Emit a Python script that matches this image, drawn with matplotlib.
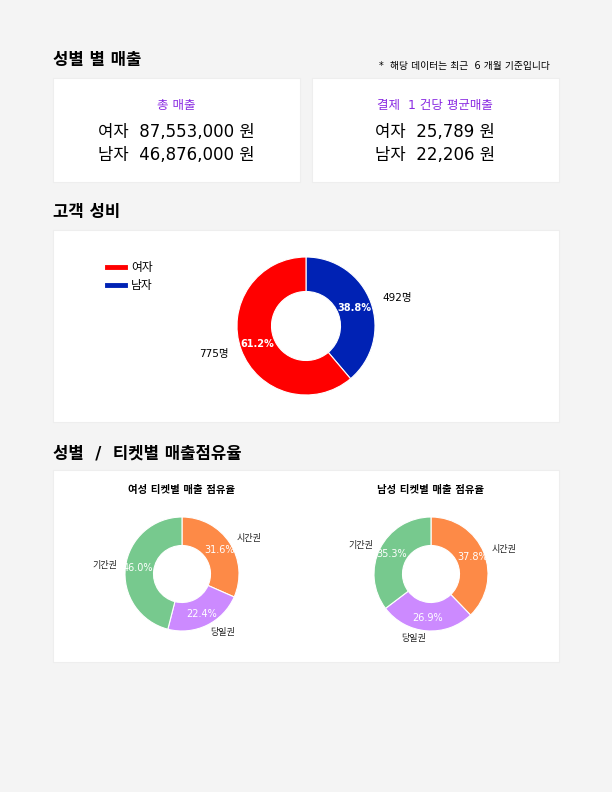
import matplotlib.pyplot as plt
from matplotlib.patches import Rectangle

plt.rcParams['font.family'] = ['DejaVu Sans', 'Noto Sans CJK KR']

W, H = 612, 792

# data
genders = ['여자', '남자']
total_sales = [87553000, 46876000]
avg_sales = [25789, 22206]
customer_counts = [775, 492]
gender_colors = ['#ff0000', '#0022b4']

tickets = ['시간권', '당일권', '기간권']
ticket_colors = ['#fd8a47', '#cc8aff', '#77c98e']
female_share = [31.6, 22.4, 46.0]
male_share = [37.8, 26.9, 35.3]

fig = plt.figure(figsize=(W / 100, H / 100), dpi=100)
fig.patch.set_facecolor('#f4f4f4')


def fx(x):
    return x / W


def fy(y):
    return 1 - y / H


def panel(x0, y0, x1, y1):
    fig.patches.append(Rectangle((fx(x0), fy(y1)), (x1 - x0) / W, (y1 - y0) / H,
                                 transform=fig.transFigure, facecolor='white',
                                 edgecolor='#eeeeee', lw=0.8, zorder=-5))


def add_ax(cx, cy, r):
    ax = fig.add_axes([fx(cx - r), fy(cy + r), 2 * r / W, 2 * r / H])
    ax.set_zorder(5)
    ax.axis('off')
    return ax


# section 1
fig.text(fx(53), fy(60), '성별 별 매출', fontsize=12, fontweight='bold', va='center')
fig.text(fx(550), fy(66), '*  해당 데이터는 최근  6 개월 기준입니다', fontsize=7, ha='right', va='center')
panel(53, 78, 300, 182)
panel(312, 78, 559, 182)
fig.text(fx(176), fy(106), '총 매출', fontsize=9, color='#8a2be2', ha='center', va='center')
fig.text(fx(435), fy(106), '결제  1 건당 평균매출', fontsize=9, color='#8a2be2', ha='center', va='center')
for i, g in enumerate(genders):
    fig.text(fx(176), fy(132 + 23 * i), f'{g}  {total_sales[i]:,} 원', fontsize=12,
             ha='center', va='center')
    fig.text(fx(435), fy(132 + 23 * i), f'{g}  {avg_sales[i]:,} 원', fontsize=12,
             ha='center', va='center')

# section 2
fig.text(fx(53), fy(212), '고객 성비', fontsize=12, fontweight='bold', va='center')
panel(53, 230, 559, 422)
ax = add_ax(306, 326, 69)
ax.pie(customer_counts[::-1], colors=gender_colors[::-1], startangle=90, counterclock=False,
       radius=1, autopct='%.1f%%', pctdistance=0.75,
       wedgeprops={'width': 0.5, 'edgecolor': 'white', 'linewidth': 0.8},
       textprops={'fontsize': 7, 'color': 'white', 'fontweight': 'bold'})
ax.set_xlim(-1, 1)
ax.set_ylim(-1, 1)
fig.text(fx(397), fy(298), f'{customer_counts[1]}명', fontsize=7.5, ha='center', va='center')
fig.text(fx(214), fy(354), f'{customer_counts[0]}명', fontsize=7.5, ha='center', va='center')
for i, g in enumerate(genders):
    y = 267 + 18 * i
    fig.lines.append(plt.Line2D([fx(107), fx(125)], [fy(y), fy(y)], transform=fig.transFigure,
                                color=gender_colors[i], lw=3.5))
    fig.text(fx(131), fy(y), g, fontsize=8.5, va='center')

# section 3
fig.text(fx(53), fy(453), '성별  /  티켓별 매출점유율', fontsize=12, fontweight='bold', va='center')
panel(53, 470, 559, 662)
for cx, share, title in [(182, female_share, '여성 티켓별 매출 점유율'),
                         (431, male_share, '남성 티켓별 매출 점유율')]:
    fig.text(fx(cx), fy(490), title, fontsize=7.5, fontweight='bold', ha='center', va='center')
    ax = add_ax(cx, 574, 57)
    ax.pie(share, labels=tickets, colors=ticket_colors, startangle=90, counterclock=False,
           radius=1, autopct='%.1f%%', pctdistance=0.78, labeldistance=1.14,
           wedgeprops={'width': 0.5, 'edgecolor': 'white', 'linewidth': 0.8},
           textprops={'fontsize': 6.5, 'color': '#222222'})
    for t in ax.texts:
        if t.get_text().endswith('%'):
            t.set_color('white')
            t.set_fontsize(7)
    ax.set_xlim(-1, 1)
    ax.set_ylim(-1, 1)

fig.savefig('out.png', dpi=100, facecolor=fig.get_facecolor())
